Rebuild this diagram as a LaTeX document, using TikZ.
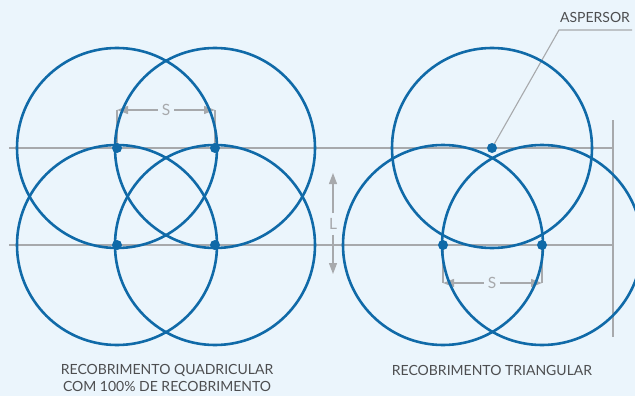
\documentclass[tikz,border=0pt]{standalone}
\usepackage{fontspec}
\setmainfont{Lato}
\usetikzlibrary{arrows.meta}
\definecolor{bg}{HTML}{EBF5FC}
\definecolor{ringblue}{HTML}{106AA8}
\definecolor{guide}{HTML}{A7A9AC}
\definecolor{txt}{HTML}{4D4E50}
\tikzset{
  ring/.style={draw=ringblue, line width=2.6pt},
  dot/.style={circle, fill=ringblue, inner sep=0pt, minimum size=10pt},
  guideline/.style={draw=guide, line width=1.3pt},
  dimarrow/.style={draw=guide, line width=1.3pt, -{Triangle[length=11pt,width=8pt]}},
  dimlabel/.style={text=guide, font=\fontsize{15.5}{15.5}\selectfont, inner sep=4pt},
  caption/.style={text=txt, font=\fontsize{14}{16.5}\selectfont, align=center, inner sep=0pt},
}
\begin{document}
\begin{tikzpicture}[x=1pt,y=-1pt]
\fill[bg] (0,0) rectangle (635,396);
\useasboundingbox (0,0) rectangle (635,396);
% sprinkler positions
\coordinate (a1) at (117,148);
\coordinate (a2) at (215,148);
\coordinate (a3) at (117,245);
\coordinate (a4) at (215,245);
\coordinate (b1) at (492,148);
\coordinate (b2) at (443,245);
\coordinate (b3) at (542,245);
% guide lines
\coordinate (h1s) at (9,148);  \coordinate (h1e) at (613,148);
\coordinate (h2s) at (9,245);  \coordinate (h2e) at (613,245);
\coordinate (vt) at (613,120); \coordinate (vb) at (613,337);
\draw[guideline] (h1s) -- (h1e);
\draw[guideline] (h2s) -- (h2e);
\draw[guideline] (vt) -- (vb);
% S dimension (left)
\coordinate (sl) at (117,110);
\coordinate (sr) at (215,110);
\node[dimlabel] (s1) at (166,110) {S};
\draw[guideline] (a1) -- (sl);
\draw[guideline] (a2) -- (sr);
\draw[dimarrow] (s1.west) -- (sl);
\draw[dimarrow] (s1.east) -- (sr);
% S dimension (right)
\coordinate (tl) at (443,283);
\coordinate (tr) at (542,283);
\node[dimlabel] (s2) at (492,283) {S};
\draw[guideline] (b2) -- (tl);
\draw[guideline] (b3) -- (tr);
\draw[dimarrow] (s2.west) -- (tl);
\draw[dimarrow] (s2.east) -- (tr);
% L dimension
\node[dimlabel, inner sep=5pt] (l1) at (333,224) {L};
\coordinate (lt) at (333,173);
\coordinate (lb) at (333,274);
\draw[dimarrow] (l1.north) -- (lt);
\draw[dimarrow] (l1.south) -- (lb);
% ASPERSOR leader
\node[text=txt, font=\fontsize{14}{16}\selectfont, inner sep=0pt] (asp) at (595,17) {ASPERSOR};
\coordinate (k1) at (559,30);
\coordinate (k2) at (632,30);
\draw[draw=guide, line width=1.1pt] (b1) -- (k1) -- (k2);
% circles
\foreach \c in {a1,a2,a3,a4,b1,b2,b3}
  \draw[ring] (\c) circle[radius=100pt];
% dots
\foreach \c in {a1,a2,a3,a4,b1,b2,b3}
  \node[dot] (d\c) at (\c) {};
% captions
\node[caption] (cap1) at (167,378) {RECOBRIMENTO QUADRICULAR\\COM 100\% DE RECOBRIMENTO};
\node[caption] (cap2) at (492,370) {RECOBRIMENTO TRIANGULAR};
\end{tikzpicture}
\end{document}
